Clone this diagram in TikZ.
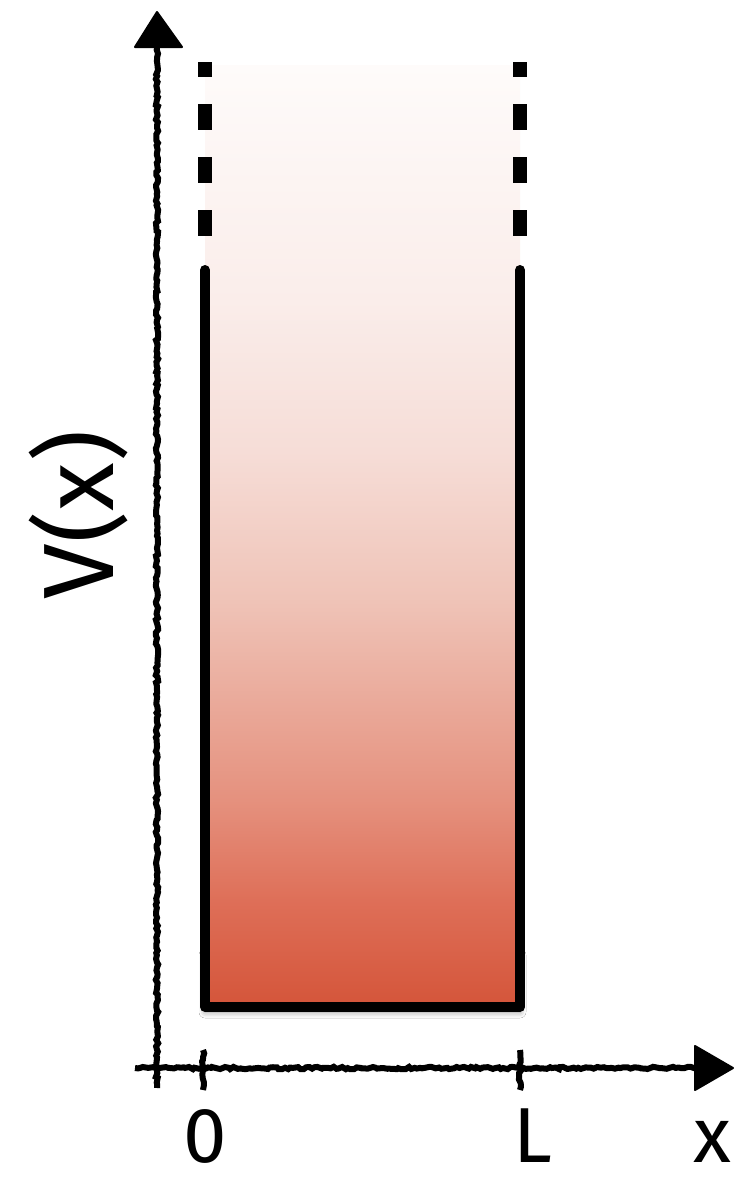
\documentclass[tikz,border=0pt]{standalone}
\usepackage{fontspec}
\setmainfont{Fira Sans}
\usetikzlibrary{decorations.pathmorphing,shadows.blur}
\definecolor{wA}{HTML}{D4553A}
\definecolor{wB}{HTML}{DE6E57}
\definecolor{wC}{HTML}{E5917E}
\definecolor{wD}{HTML}{EFC3B7}
\definecolor{wE}{HTML}{F6DDD7}
\definecolor{wF}{HTML}{FAEDEA}
\definecolor{wG}{HTML}{FEFBFA}
\pgfdeclareverticalshading{wellshade}{100bp}{color(0bp)=(wA); color(25bp)=(wA); color(30.5bp)=(wB); color(36bp)=(wC); color(46.5bp)=(wD); color(54.5bp)=(wE); color(62.5bp)=(wF); color(75bp)=(wG); color(100bp)=(wG)}
\tikzset{
  axisline/.style={line width=6pt, decorate, decoration={random steps, segment length=3pt, amplitude=1.2pt}},
  tipfill/.style={fill=black, draw=black, line width=2pt, line join=round},
  wall/.style={line width=10pt, line cap=round, line join=round},
  dashwall/.style={line width=14pt, dash pattern=on 26pt off 27pt, dash phase=11pt},
  lbl/.style={font=\fontsize{78}{78}\selectfont, inner sep=0pt}
}
\begin{document}
\begin{tikzpicture}[x=1pt,y=-1pt]
\useasboundingbox[fill=white] (0,0) rectangle (740,1184);
% coordinates
\coordinate (ybot) at (157,1088);
\coordinate (ytop) at (157,40);
\coordinate (xleft) at (135,1068);
\coordinate (xright) at (700,1068);
\coordinate (bl) at (205,1007);
\coordinate (br) at (520,1007);
\coordinate (tl) at (205,270);
\coordinate (tr) at (520,270);
% well fill with shadow
\fill[blur shadow={shadow xshift=0pt, shadow yshift=-5pt, shadow blur radius=6pt, shadow opacity=45}, white] (205,950) rectangle (520,1007);
\shade[shading=wellshade] (205,65) rectangle (520,1007);
% walls
\draw[wall] (tl) -- (bl) -- (br) -- (tr);
\draw[dashwall] (205,62) -- (205,237);
\draw[dashwall] (520,62) -- (520,237);
% axes
\draw[axisline] (ybot) -- (ytop);
\draw[tipfill] (157,12) -- (182,47) -- (135,47) -- cycle;
\draw[axisline] (xleft) -- (xright);
\draw[tipfill] (733,1068) -- (695,1046) -- (695,1090) -- cycle;
% ticks
\draw[axisline] (203,1050) -- (203,1090);
\draw[axisline] (520,1050) -- (520,1090);
% labels
\node[lbl] (zero) at (205,1136) {0};
\node[lbl] (Llab) at (533,1136) {L};
\node[lbl] (xlab) at (712,1142) {x};
\node[lbl, font=\fontsize{100}{100}\selectfont, rotate=90] (Vlab) at (78,515) {V(x)};
\end{tikzpicture}
\end{document}
